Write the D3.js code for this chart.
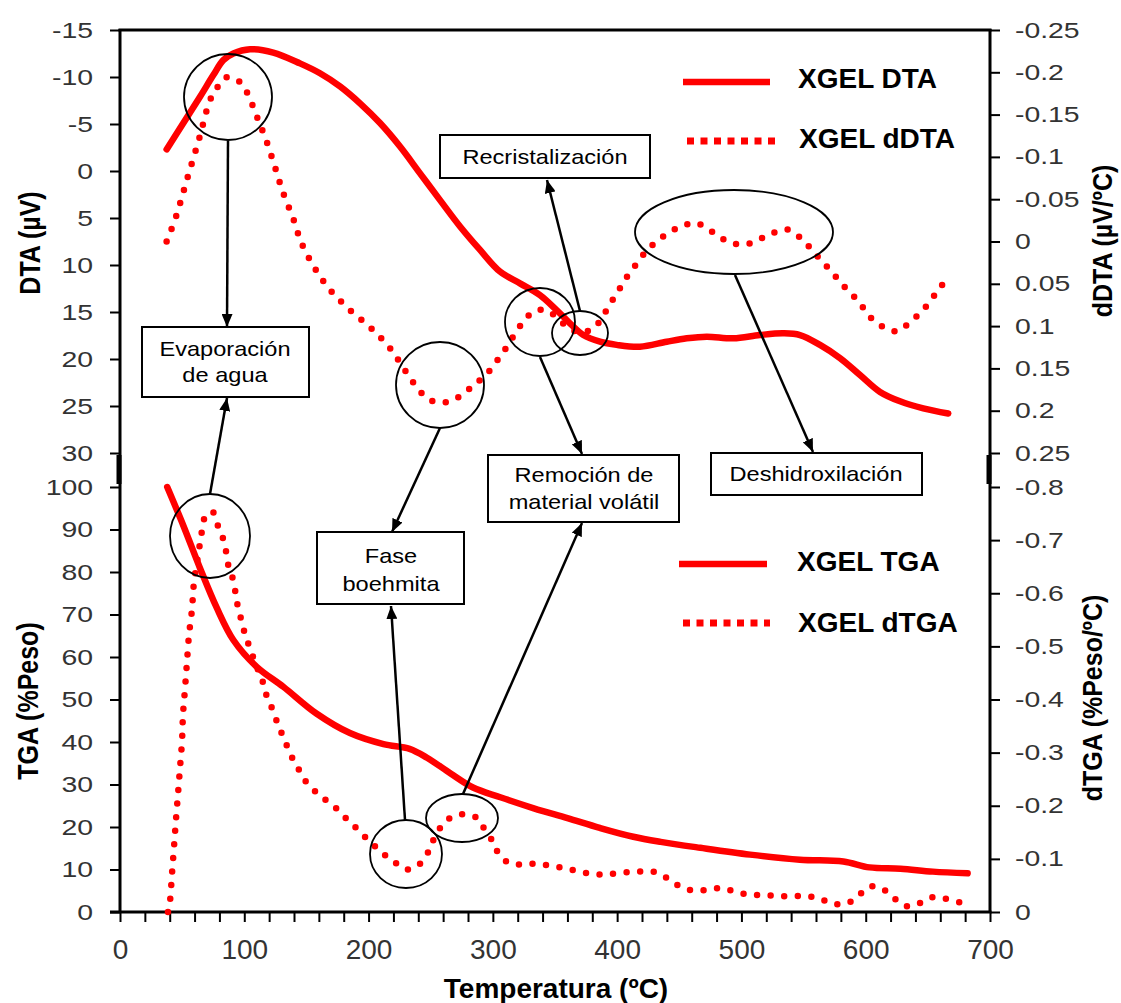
<!DOCTYPE html>
<html><head><meta charset="utf-8">
<script src="https://cdn.jsdelivr.net/npm/d3@7"></script>
<style>
body{margin:0;background:#fff}
svg{display:block}
text{font-family:"Liberation Sans",Arial,Helvetica,sans-serif}
</style>
</head><body>
<svg id="chart" width="1121" height="1003"></svg>
<script>
// ---------------- DATA ----------------
const dtaTemp = [37.5, 51, 64.4, 75.1, 83.1, 91.2, 104.6, 123.3, 144.8, 160.9, 177, 193.1, 209.2, 225.3, 241.4, 257.5, 273.6, 289.7, 305.7, 321.8, 337.9, 351.3, 362, 372.8, 386.2, 399.6, 418.4, 439.9, 456, 472, 493.5, 514.9, 533.7, 547.1, 563.2, 579.3, 595.4, 611.5, 627.6, 646.3, 666.4];
const dtaValues = [-2.3, -5.1, -7.9, -10.2, -11.8, -12.5, -12.95, -12.6, -11.45, -10.4, -9.0, -7.2, -5.1, -2.6, 0.25, 3.1, 5.9, 8.4, 10.7, 11.95, 13.2, 14.8, 16.2, 17.45, 18.16, 18.5, 18.7, 18.16, 17.8, 17.62, 17.8, 17.45, 17.27, 17.45, 18.5, 19.9, 21.7, 23.5, 24.5, 25.25, 25.8];

const ddtaTemp = [37.5, 45, 54.2, 63.8, 72.4, 77.8, 85.3, 95.2, 101.9, 110, 118, 124.7, 131.4, 139.4, 146.1, 156.9, 168.9, 185, 202.4, 217.2, 229.2, 242.6, 252, 262.7, 273.5, 282.9, 290.9, 299, 305.7, 312.4, 317.8, 324.5, 332.6, 342, 351, 360.6, 370, 380.6, 387.8, 393, 398.6, 404.8, 410, 417, 424, 432, 441, 452, 462.6, 473, 482.7, 493, 505, 516.5, 527, 537.5, 547, 555, 561.6, 569.6, 576.8, 585, 593, 599.4, 606, 615.5, 626, 635.6, 643.6, 651.7, 658, 665];
const ddtaValues = [0.0, -0.029, -0.075, -0.122, -0.167, -0.181, -0.194, -0.19, -0.177, -0.148, -0.118, -0.088, -0.057, -0.027, 0.002, 0.032, 0.057, 0.081, 0.103, 0.126, 0.152, 0.179, 0.189, 0.19, 0.183, 0.172, 0.162, 0.15, 0.136, 0.122, 0.109, 0.095, 0.083, 0.081, 0.089, 0.102, 0.107, 0.103, 0.09, 0.077, 0.064, 0.049, 0.037, 0.024, 0.01, 0.0, -0.01, -0.018, -0.022, -0.015, -0.005, 0.002, 0.003, -0.004, -0.011, -0.014, -0.005, 0.007, 0.018, 0.031, 0.043, 0.057, 0.069, 0.081, 0.093, 0.102, 0.106, 0.095, 0.085, 0.071, 0.058, 0.045];

const tgaTemp = [38, 51, 64.4, 77.8, 91.2, 110, 131.4, 158, 185, 212, 233, 247, 266, 284, 306, 333, 360, 386, 413, 435, 467, 507, 547, 582, 603, 628, 654, 682];
const tgaValues = [100, 90.9, 80.9, 71.6, 64.0, 57.7, 53.0, 46.7, 42.1, 39.5, 38.4, 36.3, 32.6, 29.3, 27.0, 24.4, 22.1, 19.8, 17.7, 16.5, 15.1, 13.5, 12.3, 11.9, 10.5, 10.2, 9.5, 9.1];

const dtgaTemp = [38.6, 40.2, 41.8, 43.4, 45, 46.7, 48.3, 49.9, 50.7, 52.3, 53.9, 55.5, 57.9, 59.5, 62.8, 66, 68.4, 72, 74.8, 78.8, 82.9, 85.3, 86.9, 90.1, 92.5, 94.1, 96.5, 99, 102.2, 106.2, 110.2, 114.2, 116.7, 120.7, 124.7, 128.7, 132.8, 136.8, 142.4, 147.2, 154.5, 162.5, 171.4, 179.4, 187.5, 195.5, 203.6, 211.6, 221.3, 230.9, 241.4, 247.8, 251.8, 257.5, 265.5, 276, 287.2, 293.7, 300.1, 304.1, 312.2, 323.4, 335.5, 347.6, 359, 370, 382.2, 392.6, 404.7, 416.8, 428.8, 439.3, 449, 459.4, 470.7, 482.7, 494, 505.3, 517.3, 528.6, 540.7, 552.7, 564, 574.5, 585.7, 594.6, 603.4, 613.9, 622.7, 632.4, 643.6, 654.1, 666.2, 677.5];
const dtgaValues = [0, -0.02, -0.071, -0.121, -0.173, -0.223, -0.272, -0.322, -0.372, -0.42, -0.471, -0.521, -0.569, -0.62, -0.67, -0.718, -0.744, -0.752, -0.753, -0.727, -0.703, -0.679, -0.655, -0.633, -0.607, -0.583, -0.56, -0.536, -0.512, -0.486, -0.461, -0.439, -0.415, -0.393, -0.368, -0.344, -0.322, -0.298, -0.275, -0.253, -0.233, -0.216, -0.201, -0.182, -0.164, -0.145, -0.127, -0.11, -0.093, -0.08, -0.091, -0.112, -0.134, -0.158, -0.177, -0.184, -0.177, -0.154, -0.132, -0.112, -0.093, -0.089, -0.091, -0.086, -0.082, -0.076, -0.071, -0.071, -0.074, -0.076, -0.076, -0.065, -0.05, -0.041, -0.041, -0.045, -0.039, -0.033, -0.032, -0.03, -0.03, -0.03, -0.024, -0.015, -0.017, -0.032, -0.048, -0.043, -0.026, -0.011, -0.017, -0.028, -0.024, -0.017];

const xTickLabels = [0, 100, 200, 300, 400, 500, 600, 700];
const dtaTicks = [-15, -10, -5, 0, 5, 10, 15, 20, 25, 30];
const ddtaTicks = [-0.25, -0.2, -0.15, -0.1, -0.05, 0, 0.05, 0.1, 0.15, 0.2, 0.25];
const tgaTicks = [0, 10, 20, 30, 40, 50, 60, 70, 80, 90, 100];
const dtgaTicks = [0, -0.1, -0.2, -0.3, -0.4, -0.5, -0.6, -0.7, -0.8];

const seriesNames = ["XGEL DTA", "XGEL dDTA", "XGEL TGA", "XGEL dTGA"];

// ---------------- LAYOUT ----------------
const L = 120, R = 990, TOP = 30, TOPB = 453, BOTT = 487, BOTB = 912;
const RED = "#ff0000";
const svg = d3.select("#chart");

const x = d3.scaleLinear().domain([0, 700]).range([L, R]);
const yDTA = d3.scaleLinear().domain([-15, 30]).range([TOP, TOPB]);
const yDDTA = d3.scaleLinear().domain([-0.25, 0.25]).range([TOP, TOPB]);
const yTGA = d3.scaleLinear().domain([0, 100]).range([BOTB, BOTT]);
const yDTGA = d3.scaleLinear().domain([0, -0.8]).range([BOTB, BOTT]);

function stretch(sel, k) {
  sel.each(function () {
    const t = d3.select(this);
    const tx = +t.attr("x") || 0;
    t.attr("x", 0).attr("transform", `translate(${tx},0) scale(${k},1)`);
  });
}

function styleAxis(g, size, k) {
  g.select(".domain").remove();
  g.attr("font-family", '"Liberation Sans",Arial,sans-serif').attr("font-size", size);
  g.selectAll(".tick line").attr("stroke", "#000").attr("stroke-width", 2);
  g.selectAll(".tick text").attr("fill", "#333");
  if (k) stretch(g.selectAll(".tick text"), k);
}

const fmt = d => String(d);

// left axes
svg.append("g").attr("transform", `translate(${L},0)`)
  .call(d3.axisLeft(yDTA).tickValues(dtaTicks).tickFormat(fmt).tickSize(10).tickPadding(17))
  .call(g => styleAxis(g, 22, 1.29));
svg.append("g").attr("transform", `translate(${L},0)`)
  .call(d3.axisLeft(yTGA).tickValues(tgaTicks).tickFormat(fmt).tickSize(10).tickPadding(17))
  .call(g => styleAxis(g, 22, 1.29));
// right axes
svg.append("g").attr("transform", `translate(${R},0)`)
  .call(d3.axisRight(yDDTA).tickValues(ddtaTicks).tickFormat(fmt).tickSize(10).tickPadding(15))
  .call(g => styleAxis(g, 22, 1.29));
svg.append("g").attr("transform", `translate(${R},0)`)
  .call(d3.axisRight(yDTGA).tickValues(dtgaTicks).tickFormat(fmt).tickSize(10).tickPadding(15))
  .call(g => styleAxis(g, 22, 1.29));
// bottom axis
svg.append("g").attr("transform", `translate(0,${BOTB})`)
  .call(d3.axisBottom(x).tickValues(d3.range(0, 701, 20))
    .tickFormat(d => xTickLabels.includes(d) ? String(d) : "")
    .tickSize(10).tickPadding(17))
  .call(g => styleAxis(g, 28, 0));

// frame lines
const frame = svg.append("g").attr("stroke", "#000").attr("fill", "none");
frame.append("line").attr("x1", L).attr("x2", L).attr("y1", TOP - 1).attr("y2", BOTB + 1).attr("stroke-width", 3);
frame.append("line").attr("x1", R).attr("x2", R).attr("y1", TOP - 1).attr("y2", BOTB + 1).attr("stroke-width", 3);
frame.append("line").attr("x1", L - 1.5).attr("x2", R + 1.5).attr("y1", TOP).attr("y2", TOP).attr("stroke-width", 3);
frame.append("line").attr("x1", L - 10).attr("x2", R + 1.5).attr("y1", BOTB).attr("y2", BOTB).attr("stroke-width", 3);
frame.append("line").attr("x1", L - 1).attr("x2", L - 1).attr("y1", TOPB + 2).attr("y2", BOTT - 3).attr("stroke-width", 5);
frame.append("line").attr("x1", R - 1).attr("x2", R - 1).attr("y1", TOPB + 2).attr("y2", BOTT - 3).attr("stroke-width", 5);

// axis titles
function vTitle(txt, cx, cy, k) {
  svg.append("text").text(txt)
    .attr("transform", `translate(${cx},${cy}) scale(${k},1) rotate(-90)`)
    .attr("text-anchor", "middle").attr("dominant-baseline", "central")
    .attr("font-weight", "bold").attr("font-size", 25).attr("fill", "#000");
}
vTitle("DTA (µV)", 30, 243, 1.15);
vTitle("TGA (%Peso)", 28, 701, 1.15);
vTitle("dDTA (µV/ºC)", 1103, 241, 1.08);
vTitle("dTGA (%Peso/ºC)", 1093, 698, 1.12);
svg.append("text").text("Temperatura (ºC)")
  .attr("x", 556).attr("y", 998).attr("text-anchor", "middle")
  .attr("font-weight", "bold").attr("font-size", 28).attr("fill", "#000");

// ---------------- CURVES ----------------
const curve = d3.curveCatmullRom.alpha(0.5);
function path(xs, ys, yScale) {
  return d3.line().x((d, i) => x(xs[i])).y(d => yScale(d)).curve(curve)(ys);
}
const plot = svg.append("g").attr("fill", "none").attr("stroke", RED);
plot.append("path").attr("d", path(dtaTemp, dtaValues, yDTA))
  .attr("stroke-width", 6.5).attr("stroke-linecap", "round").attr("stroke-linejoin", "round");
plot.append("path").attr("d", path(ddtaTemp, ddtaValues, yDDTA))
  .attr("stroke-width", 6.5).attr("stroke-linecap", "round").attr("stroke-dasharray", "0 13.6");
plot.append("path").attr("d", path(tgaTemp, tgaValues, yTGA))
  .attr("stroke-width", 6.5).attr("stroke-linecap", "round").attr("stroke-linejoin", "round");
plot.append("path").attr("d", path(dtgaTemp, dtgaValues, yDTGA))
  .attr("stroke-width", 6.5).attr("stroke-linecap", "round").attr("stroke-dasharray", "0 13.6");

// ---------------- ANNOTATIONS ----------------
const defs = svg.append("defs");
defs.append("marker").attr("id", "ah").attr("viewBox", "0 0 13 11")
  .attr("refX", 13).attr("refY", 5.5).attr("markerWidth", 13).attr("markerHeight", 11)
  .attr("markerUnits", "userSpaceOnUse").attr("orient", "auto")
  .append("path").attr("d", "M0,0L13,5.5L0,11Z").attr("fill", "#000");

const ellipses = [
  {cx: 228, cy: 97, rx: 44, ry: 43},
  {cx: 440, cy: 385, rx: 44, ry: 43},
  {cx: 540, cy: 322, rx: 35, ry: 34},
  {cx: 580, cy: 333, rx: 28, ry: 22},
  {cx: 734, cy: 232, rx: 99, ry: 42},
  {cx: 210, cy: 536, rx: 40, ry: 42},
  {cx: 406, cy: 854, rx: 36, ry: 34},
  {cx: 462, cy: 818, rx: 36, ry: 24}
];
const arrows = [
  [228, 141, 227, 327], [210, 494, 227, 398], [440, 428, 392, 532], [405, 820, 391, 606],
  [463, 794, 582, 523], [540, 357, 582, 454], [580, 311, 547, 180], [735, 275, 813, 452]
];
const boxes = [
  {x0: 142, y0: 327, x1: 309, y1: 397, lines: [["Evaporación", 225, 356], ["de agua", 225, 382]]},
  {x0: 440, y0: 135, x1: 650, y1: 178, lines: [["Recristalización", 545, 164]]},
  {x0: 488, y0: 455, x1: 679, y1: 522, lines: [["Remoción de", 584, 482], ["material volátil", 584, 509]]},
  {x0: 711, y0: 453, x1: 922, y1: 495, lines: [["Deshidroxilación", 816, 481]]},
  {x0: 317, y0: 532, x1: 464, y1: 604, lines: [["Fase", 391, 563], ["boehmita", 391, 591]]}
];

const ann = svg.append("g");
ann.selectAll("ellipse").data(ellipses).join("ellipse")
  .attr("cx", d => d.cx).attr("cy", d => d.cy).attr("rx", d => d.rx).attr("ry", d => d.ry)
  .attr("fill", "none").attr("stroke", "#000").attr("stroke-width", 1.8);
ann.selectAll("line.arr").data(arrows).join("line").attr("class", "arr")
  .attr("x1", d => d[0]).attr("y1", d => d[1]).attr("x2", d => d[2]).attr("y2", d => d[3])
  .attr("stroke", "#000").attr("stroke-width", 2.5).attr("marker-end", "url(#ah)");
const bx = ann.selectAll("g.box").data(boxes).join("g").attr("class", "box");
bx.append("rect").attr("x", d => d.x0).attr("y", d => d.y0)
  .attr("width", d => d.x1 - d.x0).attr("height", d => d.y1 - d.y0)
  .attr("fill", "#fff").attr("stroke", "#000").attr("stroke-width", 2);
bx.each(function (d) {
  const g = d3.select(this);
  d.lines.forEach(([t, cx, by]) => {
    g.append("text").text(t)
      .attr("transform", `translate(${cx},${by}) scale(1.18,1)`)
      .attr("text-anchor", "middle").attr("font-size", 20).attr("fill", "#000");
  });
});

// ---------------- LEGENDS ----------------
const legend = [
  {name: seriesNames[0], dotted: false, x0: 683, x1: 770, ly: 82, tx: 798, ty: 88},
  {name: seriesNames[1], dotted: true, x0: 687, x1: 775, ly: 141, tx: 799, ty: 148},
  {name: seriesNames[2], dotted: false, x0: 679, x1: 767, ly: 564, tx: 797, ty: 571},
  {name: seriesNames[3], dotted: true, x0: 683, x1: 770, ly: 623, tx: 798, ty: 632}
];
const lg = svg.append("g");
legend.forEach(d => {
  const ln = lg.append("line").attr("x1", d.x0).attr("x2", d.x1).attr("y1", d.ly).attr("y2", d.ly)
    .attr("stroke", RED);
  if (d.dotted) ln.attr("stroke-width", 7).attr("stroke-dasharray", "7 6.5");
  else ln.attr("stroke-width", 6.5);
  lg.append("text").text(d.name).attr("x", d.tx).attr("y", d.ty)
    .attr("font-weight", "bold").attr("font-size", 28).attr("fill", "#000");
});
</script>
</body></html>
